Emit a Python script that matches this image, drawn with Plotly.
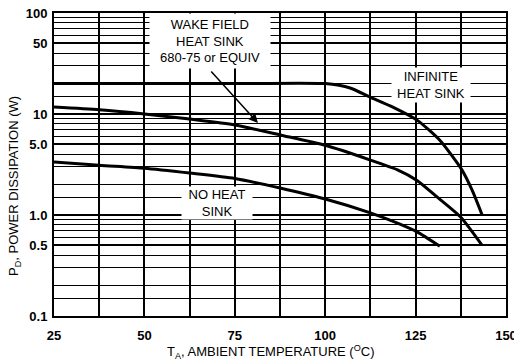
import plotly.graph_objects as go

# Power derating curves
infinite_temp = [25, 50, 75, 100, 106.9, 112.4, 118.7, 125.4, 131.7, 137.8, 140.6, 143.4]
infinite_pd = [20, 20, 20, 20, 18.1, 14.7, 11.7, 8.7, 5.5, 2.8, 1.77, 1.0]

wake_temp = [25, 37.5, 50, 62.5, 75, 87.5, 100, 112.5, 120, 125.4, 131, 137.5, 143.4]
wake_pd = [11.7, 11.0, 10.0, 8.9, 7.8, 6.2, 4.9, 3.5, 2.8, 2.2, 1.5, 0.95, 0.5]

noheat_temp = [25, 37.5, 50, 62.5, 75, 87.5, 100, 112.5, 120, 125.4, 131.7]
noheat_pd = [3.35, 3.1, 2.9, 2.6, 2.3, 1.85, 1.44, 1.05, 0.83, 0.68, 0.49]

x_ticks = [25, 50, 75, 100, 125, 150]
y_ticks = [0.1, 0.5, 1, 5, 10, 50, 100]
y_ticktext = ["0.1", "0.5", "1.0", "5.0", "10", "50", "100"]
y_minor = [m * d for d in (0.1, 1, 10) for m in (1.5, 2, 3, 4, 6, 7, 8, 9)]

TXT = "Liberation Sans, Arial"
tick_font = dict(family=TXT, size=13, color="black", weight="bold")
label_font = dict(family=TXT, size=13, color="black")

fig = go.Figure()
for xs, ys in [(infinite_temp, infinite_pd), (wake_temp, wake_pd), (noheat_temp, noheat_pd)]:
    fig.add_trace(go.Scatter(x=xs, y=ys, mode="lines",
                             line=dict(color="black", width=3, shape="spline", smoothing=0.6),
                             showlegend=False, hoverinfo="skip"))

fig.add_annotation(x=68.1, y=1.723, xref="x", yref="y",
                   text="WAKE FIELD<br>HEAT SINK<br>680-75 or EQUIV",
                   showarrow=False, bgcolor="white", width=118, height=52, font=label_font)
fig.add_annotation(x=129.3, y=1.292, xref="x", yref="y",
                   text="INFINITE<br>HEAT SINK", showarrow=False, bgcolor="white",
                   width=76, height=32, font=label_font)
fig.add_annotation(x=70.1, y=0.119, xref="x", yref="y",
                   text="NO HEAT<br>SINK", showarrow=False, bgcolor="white",
                   width=68, height=30, font=label_font)
# arrow pointing at the wake field curve
fig.add_annotation(x=81.4, y=0.911, ax=68.1, ay=1.436, xref="x", yref="y",
                   axref="x", ayref="y", text="", showarrow=True,
                   arrowhead=2, arrowsize=1.2, arrowwidth=1.5, arrowcolor="black")

fig.add_annotation(x=0.478, y=-0.119, xref="paper", yref="paper",
                   xanchor="center", yanchor="middle",
                   text="T<sub>A</sub>, AMBIENT TEMPERATURE (<sup>O</sup>C)",
                   showarrow=False, font=label_font)
fig.add_annotation(x=-0.0885, y=0.429, xref="paper", yref="paper", textangle=-90,
                   xanchor="center", yanchor="middle",
                   text="P<sub>D</sub>, POWER DISSIPATION (W)",
                   showarrow=False, font=label_font)

fig.update_layout(
    width=514, height=362,
    margin=dict(l=54, r=8, t=13, b=46),
    paper_bgcolor="white", plot_bgcolor="white",
    xaxis=dict(range=[25, 150], tickvals=x_ticks, showgrid=True, automargin=False,
               gridcolor="black", gridwidth=1.5, showline=True, linecolor="black",
               linewidth=2, mirror=True, ticks="", ticklabelstandoff=6,
               ticklabeloverflow="allow", tickfont=tick_font, zeroline=False,
               minor=dict(dtick=12.5, tick0=25, showgrid=True, gridcolor="black", gridwidth=1.5)),
    yaxis=dict(type="log", range=[-1, 2], tickvals=y_ticks, ticktext=y_ticktext,
               showgrid=True, gridcolor="black", gridwidth=1.5, showline=True, automargin=False,
               linecolor="black", linewidth=2, mirror=True, ticks="", ticklabelstandoff=2,
               ticklabeloverflow="allow", tickfont=tick_font,
               minor=dict(tickvals=y_minor, showgrid=True, gridcolor="black", gridwidth=1.2)),
)

fig.write_html("out.html", config={"displayModeBar": False},
               post_script="document.body.style.margin='0';")
